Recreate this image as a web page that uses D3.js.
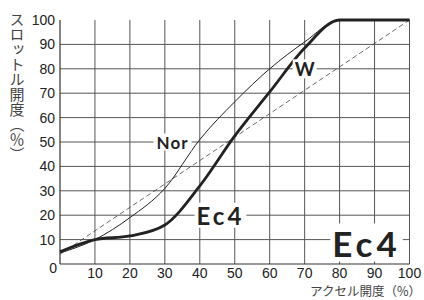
<!DOCTYPE html>
<html>
<head>
<meta charset="utf-8">
<script src="https://cdn.jsdelivr.net/npm/d3@7/dist/d3.min.js"></script>
<style>
  html, body { margin: 0; padding: 0; background: #fff; }
  svg { display: block; }
</style>
</head>
<body>
<svg id="chart" width="424" height="300"></svg>
<script>
// accelerator opening (%) -> throttle opening (%)
var accel = [0, 10, 20, 30, 40, 50, 60, 70, 80, 90, 100];
var norValues = [4.5, 10, 19, 31, 51, 66.5, 80, 91, 100, 100, 100];
var ec4Values = [5, 10, 11.5, 16, 32, 52.5, 70.5, 88.5, 100, 100, 100];
var linearValues = [4, 100]; // dashed reference, at accel 0 and 100

var xTicks = [10, 20, 30, 40, 50, 60, 70, 80, 90, 100];
var yTicks = [10, 20, 30, 40, 50, 60, 70, 80, 90, 100];
var xTitle = 'アクセル開度（%）';
var yTitle = 'スロットル開度（％）';

// curve labels: [text, accel, throttle]
var curveLabels = [
  ['Nor', 32.2, 50],
  ['W', 70, 80],
  ['Ec4', 45.9, 20]
];
var modeLabel = ['Ec4', 87.7, 8.8];

var svg = d3.select('#chart');
var x = d3.scaleLinear().domain([0, 100]).range([60, 409.5]);
var y = d3.scaleLinear().domain([0, 100]).range([264, 20]);

var grid = svg.append('g');
// vertical grid lines (incl. right edge)
grid.selectAll('line.v').data(xTicks).enter().append('line')
  .attr('class', 'v')
  .attr('x1', function (d) { return x(d); })
  .attr('x2', function (d) { return x(d); })
  .attr('y1', y(0)).attr('y2', y(100))
  .attr('stroke', '#555').attr('stroke-width', 1);
// horizontal grid lines (no top line)
grid.selectAll('line.h').data(yTicks.filter(function (d) { return d < 100; })).enter().append('line')
  .attr('class', 'h')
  .attr('x1', x(0)).attr('x2', x(100))
  .attr('y1', function (d) { return y(d); })
  .attr('y2', function (d) { return y(d); })
  .attr('stroke', '#555').attr('stroke-width', 1);

// axes
svg.append('line').attr('x1', x(0)).attr('x2', x(0)).attr('y1', y(0)).attr('y2', y(100))
  .attr('stroke', '#333').attr('stroke-width', 1.2);
svg.append('line').attr('x1', x(0)).attr('x2', x(100)).attr('y1', y(0)).attr('y2', y(0))
  .attr('stroke', '#333').attr('stroke-width', 1.2);

// dashed linear reference
svg.append('line')
  .attr('x1', x(0)).attr('y1', y(linearValues[0]))
  .attr('x2', x(100)).attr('y2', y(linearValues[1]))
  .attr('stroke', '#444').attr('stroke-width', 0.8)
  .attr('stroke-dasharray', '5,3');

var line = d3.line()
  .x(function (d) { return x(d[0]); })
  .y(function (d) { return y(d[1]); })
  .curve(d3.curveMonotoneX);

svg.append('path')
  .datum(d3.zip(accel, norValues))
  .attr('d', line)
  .attr('fill', 'none').attr('stroke', '#222').attr('stroke-width', 1);

svg.append('path')
  .datum(d3.zip(accel, ec4Values))
  .attr('d', line)
  .attr('fill', 'none').attr('stroke', '#222').attr('stroke-width', 2.8)
  .attr('stroke-linejoin', 'round');

// labels with white boxes
function boxedLabel(text, ax, th, size, spacing, pad) {
  var g = svg.append('g');
  var t = g.append('text')
    .attr('x', x(ax)).attr('y', y(th))
    .attr('text-anchor', 'middle')
    .attr('dominant-baseline', 'central')
    .attr('font-family', 'Lato, "Open Sans", sans-serif')
    .attr('font-weight', 700)
    .attr('font-size', size)
    .attr('letter-spacing', spacing)
    .attr('fill', '#222')
    .text(text);
  var b = t.node().getBBox();
  g.insert('rect', 'text')
    .attr('x', b.x - pad).attr('y', b.y + 2)
    .attr('width', b.width + pad * 2).attr('height', b.height - 4)
    .attr('fill', '#fff');
}

boxedLabel(curveLabels[0][0], curveLabels[0][1], curveLabels[0][2], 17, 1, 3);
boxedLabel(curveLabels[1][0], curveLabels[1][1], curveLabels[1][2], 19, 0, 2);
boxedLabel(curveLabels[2][0], curveLabels[2][1], curveLabels[2][2], 24, 3, 2);
boxedLabel(modeLabel[0], modeLabel[1], modeLabel[2], 35, 4, 2);

// tick labels
svg.selectAll('text.xt').data(xTicks).enter().append('text')
  .attr('class', 'xt')
  .attr('x', function (d) { return x(d); })
  .attr('y', 278)
  .attr('text-anchor', 'middle')
  .attr('font-family', '"Liberation Sans", Arial, sans-serif')
  .attr('font-size', 14)
  .attr('fill', '#222')
  .text(function (d) { return d; });

svg.selectAll('text.yt').data(yTicks).enter().append('text')
  .attr('class', 'yt')
  .attr('x', 55)
  .attr('y', function (d) { return y(d) + 5; })
  .attr('text-anchor', 'end')
  .attr('font-family', '"Liberation Sans", Arial, sans-serif')
  .attr('font-size', 14)
  .attr('fill', '#222')
  .text(function (d) { return d; });

svg.append('text')
  .attr('x', 57).attr('y', 273)
  .attr('text-anchor', 'end')
  .attr('font-family', '"Liberation Sans", Arial, sans-serif')
  .attr('font-size', 14)
  .attr('fill', '#222')
  .text('0');

// axis titles
svg.append('text')
  .attr('x', 421).attr('y', 296)
  .attr('text-anchor', 'end')
  .attr('font-family', '"Noto Sans CJK JP", sans-serif')
  .attr('font-size', 12.5)
  .attr('fill', '#444')
  .text(xTitle);

svg.append('text')
  .attr('x', 17).attr('y', 12)
  .attr('text-anchor', 'start')
  .style('writing-mode', 'vertical-rl')
  .attr('font-family', '"Noto Sans CJK JP", sans-serif')
  .attr('font-size', 15)
  .attr('fill', '#444')
  .text(yTitle);
</script>
</body>
</html>
